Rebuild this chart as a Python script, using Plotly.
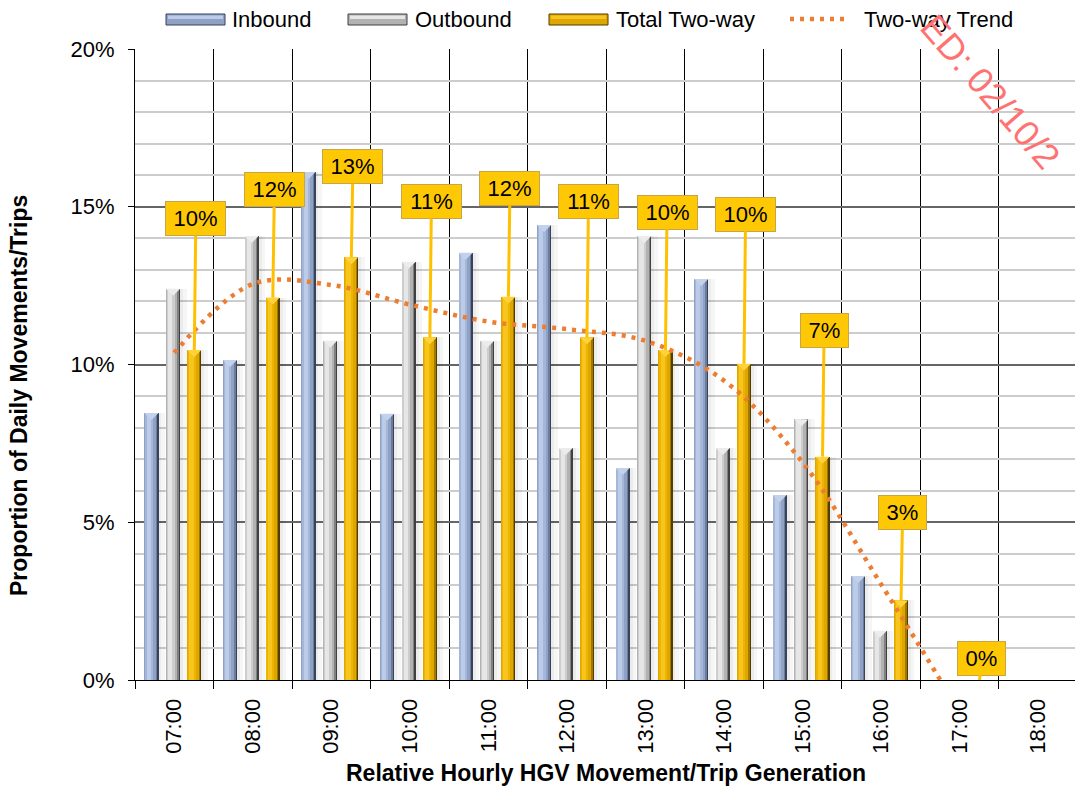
import plotly.graph_objects as go

# Hourly HGV movements as a share of the daily total
hours = ["07:00", "08:00", "09:00", "10:00", "11:00", "12:00",
         "13:00", "14:00", "15:00", "16:00", "17:00", "18:00"]
inbound = [0.0846, 0.1014, 0.1610, 0.0844, 0.1354, 0.1442,
           0.0672, 0.1271, 0.0586, 0.0330, 0.0, None]
outbound = [0.1240, 0.1407, 0.1075, 0.1326, 0.1075, 0.0735,
            0.1407, 0.0735, 0.0826, 0.0156, 0.0, None]
total_two_way = [0.1046, 0.1212, 0.1340, 0.1086, 0.1215, 0.1086,
                 0.1046, 0.1002, 0.0708, 0.0252, 0.0, None]
# polynomial trend of the two-way share, sampled at each hour
trend_two_way = [0.1037, 0.1255, 0.1252, 0.1190, 0.1136, 0.1112,
                 0.1075, 0.0949, 0.0690, 0.0304, -0.0100]

# vertical position (share) of each call-out box
label_box_y = [0.1463, 0.1554, 0.1627, 0.1517, 0.1558, 0.1516,
               0.1482, 0.1476, 0.1108, 0.0530, 0.0069]

FONT = "Liberation Sans, Arial, sans-serif"
W, H = 1075, 789
L, R, T, B = 135, 0, 49, 109
PW, PH = W - L - R, H - T - B


def px_x(px):
    return (px - L) / PW


def px_y(py):
    return (H - B - py) / PH


BAR_W = 0.18
CAP_H = 0.0022  # depth of the bevelled cap on each bar (in share units)
OFFSETS = {"in": -0.29, "out": -0.015, "tot": 0.255}

# colour bands across each bar (fraction from left edge) for a cylinder look
BANDS = {
    "in": [(0.0, 1.0, "#38435a"), (0.0, 0.9, "#6a7b9b"), (0.0, 0.8, "#8fa2c6"),
           (0.05, 0.6, "#a5b7d8"), (0.15, 0.45, "#bccbe7")],
    "out": [(0.0, 1.0, "#404040"), (0.0, 0.9, "#808080"), (0.0, 0.8, "#b2b2b2"),
            (0.05, 0.6, "#cdcdcd"), (0.15, 0.45, "#e6e6e6")],
    "tot": [(0.0, 1.0, "#533e00"), (0.0, 0.9, "#a07800"), (0.0, 0.8, "#dda600"),
            (0.05, 0.6, "#edb400"), (0.15, 0.45, "#f8c420")],
}
CAP_COLOR = {"in": "#c3d1ec", "out": "#ececec", "tot": "#ffd23c"}
SHADOW = [(1.0, 1.45, "rgba(0,0,0,0.035)"), (1.0, 1.2, "rgba(0,0,0,0.04)")]

fig = go.Figure()


def add_series(values, key):
    xs = [i + OFFSETS[key] for i, v in enumerate(values) if v is not None]
    ys = [v for v in values if v is not None]
    for lo, hi, col in SHADOW + BANDS[key]:
        shift = BAR_W * (-0.5 + (lo + hi) / 2)
        fig.add_trace(go.Bar(
            x=[x + shift for x in xs], y=ys, width=BAR_W * (hi - lo),
            marker=dict(color=col, line=dict(width=0)),
            hoverinfo="skip", showlegend=False))
    # bevelled cap at the top of every non-empty bar
    cx, cy = [], []
    for x, y in zip(xs, ys):
        if y <= 0:
            continue
        cx += [x - BAR_W / 2, x + BAR_W / 2, x, x - BAR_W / 2, None]
        cy += [y, y, y - CAP_H, y, None]
    fig.add_trace(go.Scatter(
        x=cx, y=cy, mode="lines", fill="toself", fillcolor=CAP_COLOR[key],
        line=dict(width=0, color=CAP_COLOR[key]), hoverinfo="skip", showlegend=False))


add_series(inbound, "in")
add_series(outbound, "out")
add_series(total_two_way, "tot")

# two-way trend line
fig.add_trace(go.Scatter(
    x=list(range(len(trend_two_way))), y=trend_two_way, mode="lines",
    line=dict(color="#ED7D31", width=4.5, dash="4px,6px", shape="spline", smoothing=1.0),
    hoverinfo="skip", showlegend=False))

annotations = []
# call-out labels for the two-way totals
for i, v in enumerate(total_two_way):
    if v is None:
        continue
    txt = f"{v * 100:.0f}%"
    annotations.append(dict(
        x=i + OFFSETS["tot"], y=v, xref="x", yref="y",
        ax=i + OFFSETS["tot"] + 0.02, ay=label_box_y[i], axref="x", ayref="y",
        text=txt, showarrow=True, arrowhead=0, arrowwidth=3, arrowcolor="#FFC000",
        bgcolor="#FFC805", bordercolor="#C8A646", borderwidth=1, borderpad=3,
        width=53 if len(txt) > 2 else 41, height=27,
        font=dict(family=FONT, size=22, color="#000000")))

# axis titles
annotations.append(dict(
    x=px_x(606), y=px_y(773), xref="paper", yref="paper", showarrow=False,
    text="<b>Relative Hourly HGV Movement/Trip Generation</b>",
    font=dict(family=FONT, size=23, color="#000000"), xanchor="center", yanchor="middle"))
annotations.append(dict(
    x=px_x(19), y=px_y(396), xref="paper", yref="paper", showarrow=False,
    text="<b>Proportion of Daily Movements/Trips</b>", textangle=-90,
    font=dict(family=FONT, size=23, color="#000000"), xanchor="center", yanchor="middle"))

# legend drawn across the top
shapes = []
legend_items = [
    ("Inbound", "in", 166, 230),
    ("Outbound", "out", 348, 413),
    ("Total Two-way", "tot", 549, 614),
]
for label, key, sx, tx in legend_items:
    bands = BANDS[key]
    shapes.append(dict(type="rect", xref="paper", yref="paper",
                       x0=px_x(sx), x1=px_x(sx + 59), y0=px_y(25), y1=px_y(14),
                       fillcolor=bands[2][2], line=dict(color=bands[0][2], width=1)))
    shapes.append(dict(type="rect", xref="paper", yref="paper",
                       x0=px_x(sx + 2), x1=px_x(sx + 57), y0=px_y(19), y1=px_y(15.5),
                       fillcolor=bands[4][2], line=dict(width=0)))
    annotations.append(dict(x=px_x(tx), y=px_y(19), xref="paper", yref="paper",
                            text=label, showarrow=False, xanchor="left", yanchor="middle",
                            font=dict(family=FONT, size=22, color="#000000")))
shapes.append(dict(type="line", xref="paper", yref="paper",
                   x0=px_x(790), x1=px_x(850), y0=px_y(19), y1=px_y(19),
                   line=dict(color="#ED7D31", width=4.5, dash="4px,6px")))
annotations.append(dict(x=px_x(862), y=px_y(19), xref="paper", yref="paper",
                        text="Two-way Trend", showarrow=False, xanchor="left", yanchor="middle",
                        font=dict(family=FONT, size=22, color="#000000")))

# date stamp running diagonally in the top-right corner
annotations.append(dict(
    x=px_x(990), y=px_y(92), xref="paper", yref="paper", showarrow=False,
    text="ED: 02/10/2", textangle=49,
    font=dict(family=FONT, size=36, color="#FF7272"), xanchor="center", yanchor="middle"))

fig.update_layout(
    width=W, height=H, margin=dict(l=L, r=R, t=T, b=B, autoexpand=False),
    paper_bgcolor="#FFFFFF", plot_bgcolor="#FFFFFF",
    barmode="overlay", bargap=0, showlegend=False,
    font=dict(family=FONT, size=22, color="#000000"),
    annotations=annotations, shapes=shapes,
)
fig.update_xaxes(
    range=[-0.5, 11.47], tickmode="array", tickvals=list(range(len(hours))), ticktext=hours,
    tickangle=-90, ticks="", showgrid=False, zeroline=False,
    showline=True, linecolor="#000000", linewidth=1, ticklabelstandoff=9,
    tickfont=dict(family=FONT, size=22, color="#000000"),
    minor=dict(tickmode="linear", tick0=-0.5, dtick=1, showgrid=True, gridcolor="#000000",
               gridwidth=1, ticks="outside", ticklen=8, tickcolor="#000000", tickwidth=1),
)
fig.update_yaxes(
    range=[0, 0.2], tickmode="linear", tick0=0, dtick=0.05, tickformat=".0%",
    showgrid=True, gridcolor="#666666", gridwidth=1.6, zeroline=False,
    showline=True, linecolor="#000000", linewidth=1,
    ticks="outside", ticklen=6, tickcolor="#000000", ticklabelstandoff=9,
    tickfont=dict(family=FONT, size=22, color="#000000"),
    minor=dict(tickmode="linear", tick0=0, dtick=0.01, showgrid=True, gridcolor="#CCCCCC",
               gridwidth=1.5),
)

fig.write_html("out.html")
